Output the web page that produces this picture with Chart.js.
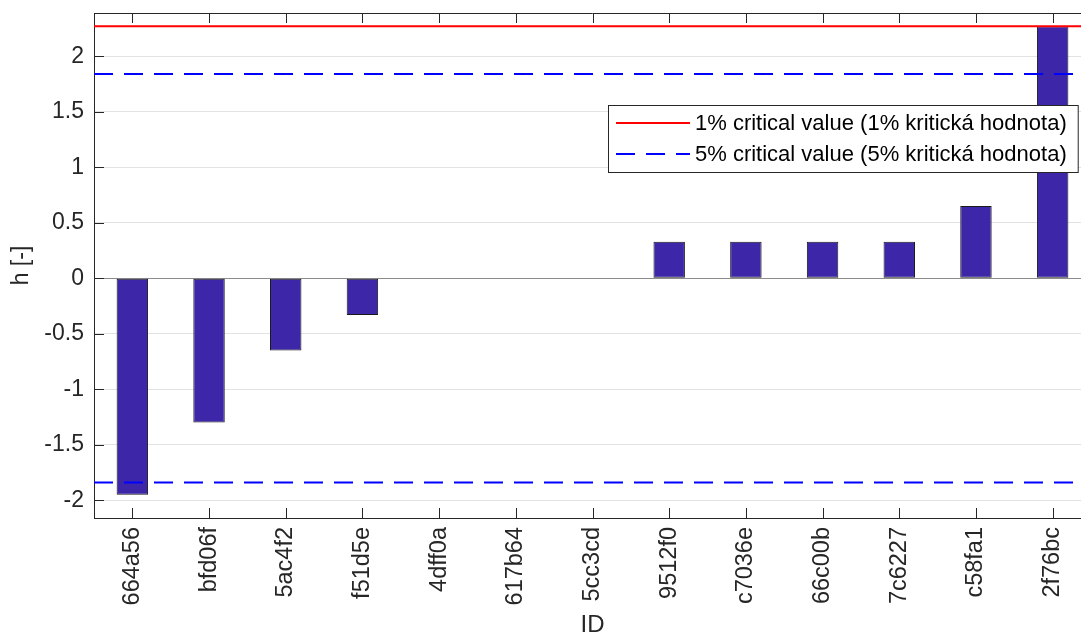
<!DOCTYPE html>
<html>
<head>
<meta charset="utf-8">
<script src="https://cdn.jsdelivr.net/npm/chart.js@4/dist/chart.umd.min.js"></script>
<style>
  html, body { margin: 0; padding: 0; background: #fff; overflow: hidden; }
  #wrap { width: 1093px; height: 637px; }
</style>
</head>
<body>
<div id="wrap"><canvas id="chart" width="1093" height="637"></canvas></div>
<script>
const categories = ["664a56", "bfd06f", "5ac4f2", "f51d5e", "4dff0a", "617b64", "5cc3cd",
  "9512f0", "c7036e", "66c00b", "7c6227", "c58fa1", "2f76bc"];
const hValues = [-1.95, -1.30, -0.65, -0.33, 0, 0, 0, 0.33, 0.33, 0.33, 0.33, 0.65, 2.27];
const critical1 = 2.27;
const critical5 = 1.84;
const yTicks = [-2, -1.5, -1, -0.5, 0, 0.5, 1, 1.5, 2];
const yMin = -2.16;
const yMax = 2.39;

const AXIS_COLOR = "#262626";
const FONT = "'Liberation Sans', Arial, Helvetica, sans-serif";

const hline = (v) => [{ x: 0, y: v }, { x: 1, y: v }];

// MATLAB-like inward ticks and the top/right box edges
const axisBox = {
  id: "axisBox",
  afterDatasetsDraw(chart) {
    const { ctx, chartArea: a, scales } = chart;
    ctx.save();
    ctx.strokeStyle = AXIS_COLOR;
    ctx.lineWidth = 1;
    ctx.beginPath();
    scales.y.ticks.forEach((t) => {
      const py = Math.round(scales.y.getPixelForValue(t.value)) + 0.5;
      ctx.moveTo(a.left, py);
      ctx.lineTo(a.left + 10, py);
    });
    scales.x.ticks.forEach((t, i) => {
      const px = Math.round(scales.x.getPixelForTick(i)) + 0.5;
      ctx.moveTo(px, a.bottom);
      ctx.lineTo(px, a.bottom - 10);
      ctx.moveTo(px, a.top);
      ctx.lineTo(px, a.top + 10);
    });
    ctx.moveTo(a.left, a.top + 0.5);
    ctx.lineTo(a.right, a.top + 0.5);
    ctx.moveTo(a.right - 0.5, a.top);
    ctx.lineTo(a.right - 0.5, a.bottom);
    ctx.stroke();
    ctx.restore();
  },
};

// legend box inside the plot, upper right
const innerLegend = {
  id: "innerLegend",
  afterDraw(chart) {
    const { ctx } = chart;
    const items = chart.data.datasets.filter((d) => d.legendText);
    ctx.save();
    ctx.font = "22px " + FONT;
    const textW = Math.max(...items.map((d) => ctx.measureText(d.legendText).width));
    const boxX = 608, boxY = 105, rowH = 31;
    const textX = boxX + 87;
    const boxW = textX - boxX + textW + 11;
    const boxH = rowH * items.length + 5;
    ctx.fillStyle = "#fff";
    ctx.fillRect(boxX, boxY, boxW, boxH);
    ctx.strokeStyle = AXIS_COLOR;
    ctx.lineWidth = 1;
    ctx.strokeRect(boxX + 0.5, boxY + 0.5, boxW, boxH);
    items.forEach((d, i) => {
      const cy = boxY + 18 + i * rowH;
      ctx.strokeStyle = d.borderColor;
      ctx.lineWidth = d.borderWidth;
      ctx.setLineDash(d.borderDash || []);
      ctx.beginPath();
      ctx.moveTo(boxX + 8, cy);
      ctx.lineTo(boxX + 82, cy);
      ctx.stroke();
      ctx.setLineDash([]);
      ctx.fillStyle = "#000";
      ctx.textBaseline = "middle";
      ctx.fillText(d.legendText, textX, cy + 1);
    });
    ctx.restore();
  },
};

new Chart(document.getElementById("chart"), {
  type: "bar",
  data: {
    labels: categories,
    datasets: [
      {
        type: "line",
        legendText: "1% critical value (1% kritická hodnota)",
        data: hline(critical1),
        xAxisID: "x2",
        borderColor: "#ff0000",
        borderWidth: 2,
        pointRadius: 0,
        order: 1,
      },
      {
        type: "line",
        legendText: "5% critical value (5% kritická hodnota)",
        data: hline(critical5),
        xAxisID: "x2",
        borderColor: "#0000ff",
        borderWidth: 2,
        borderDash: [19, 11],
        pointRadius: 0,
        order: 1,
      },
      {
        type: "line",
        data: hline(-critical5),
        xAxisID: "x2",
        borderColor: "#0000ff",
        borderWidth: 2,
        borderDash: [19, 11],
        pointRadius: 0,
        order: 1,
      },
      {
        type: "bar",
        data: hValues,
        xAxisID: "x",
        backgroundColor: "#3E26A8",
        borderColor: "#1a1a1a",
        borderWidth: 1,
        borderSkipped: false,
        grouped: false,
        barPercentage: 0.41,
        categoryPercentage: 1,
        order: 2,
      },
    ],
  },
  options: {
    responsive: false,
    animation: false,
    devicePixelRatio: 1,
    layout: { padding: { top: 13, right: 2, left: 0, bottom: 0 } },
    plugins: {
      legend: { display: false },
      tooltip: { enabled: false },
    },
    scales: {
      x: {
        type: "category",
        offset: true,
        grid: { display: false, drawTicks: false },
        border: { color: AXIS_COLOR, width: 1 },
        ticks: {
          color: "#262626",
          font: { family: FONT, size: 23.5 },
          minRotation: 90,
          maxRotation: 90,
          padding: 9,
          autoSkip: false,
        },
        title: {
          display: true,
          text: "ID",
          color: "#262626",
          font: { family: FONT, size: 24, lineHeight: 1 },
          padding: { top: 0, bottom: 0 },
        },
        afterFit: (s) => { s.height = 119; s.paddingLeft = 0; s.paddingRight = 0; },
      },
      x2: {
        type: "linear",
        display: false,
        offset: false,
        min: 0,
        max: 1,
      },
      y: {
        min: yMin,
        max: yMax,
        afterBuildTicks: (s) => { s.ticks = yTicks.map((v) => ({ value: v })); },
        grid: {
          drawTicks: false,
          color: (c) => (c.tick && c.tick.value === 0 ? "#8c8c8c" : "#e3e3e3"),
        },
        border: { color: AXIS_COLOR, width: 1 },
        ticks: {
          color: "#262626",
          font: { family: FONT, size: 23 },
          padding: 10,
          callback: (v) => String(v),
        },
        title: {
          display: true,
          text: "h [-]",
          color: "#262626",
          font: { family: FONT, size: 23 },
          padding: { top: 8, bottom: 0 },
        },
        afterFit: (s) => { s.width = 94; s.paddingTop = 0; s.paddingBottom = 0; },
      },
    },
  },
  plugins: [axisBox, innerLegend],
});
</script>
</body>
</html>
